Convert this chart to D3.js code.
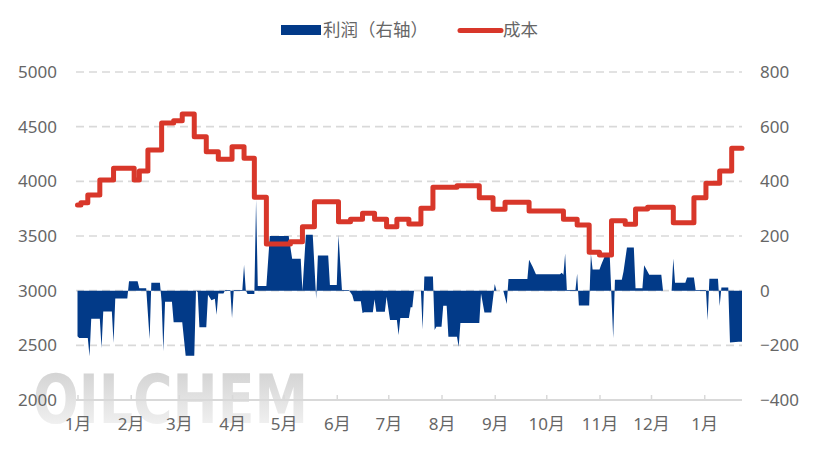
<!DOCTYPE html>
<html>
<head>
<meta charset="utf-8">
<script src="https://cdn.jsdelivr.net/npm/d3@7"></script>
<style>
  body { margin: 0; background: #fff; }
  svg text { font-family: "Noto Sans", "Noto Sans CJK SC", sans-serif; fill: #666; }
</style>
</head>
<body>
<svg id="chart" width="815" height="460"></svg>
<script>
// days counted from 2023-01-01
const startDate = new Date(2023, 0, 1);
const endDate = new Date(2024, 0, 23);

// cost (left axis), step values: [day, value]
const costSteps = [
  [0,3784],[2,3805],[6,3875],[13,4012],[21,4119],[33,4012],[36,4095],[41,4287],
  [49,4533],[56,4555],[61,4616],[68,4408],[75,4271],[82,4201],[90,4317],[97,4211],
  [103,3854],[110,3427],[124,3448],[131,3585],[138,3814],[152,3631],[159,3653],
  [166,3708],[173,3653],[180,3585],[186,3653],[193,3610],[200,3753],[207,3945],
  [221,3960],[234,3850],[242,3744],[249,3808],[263,3729],[283,3653],[291,3601],
  [298,3351],[304,3326],[311,3640],[319,3607],[325,3747],[332,3762],[347,3622],
  [359,3850],[366,3982],[374,4095],[381,4302],[387,4302]
];

// profit (right axis): [day, value]
const profitPoints = [
  [0,-167],[1,-173],[6,-173],[7,-240],[8,-103],[13,-103],[14,-210],[15,-76],
  [20,-76],[21,-191],[22,-29],[29,-29],[30,34],[35,34],[36,9],[40,9],[42,-177],
  [43,29],[48,29],[49,-41],[50,-222],[51,-41],[55,-41],[56,-116],[61,-116],
  [63,-238],[68,-238],[69,0],[70,-5],[71,-134],[75,-134],[76,-15],[78,-35],
  [80,-30],[81,-88],[82,-10],[85,-10],[86,2],[89,2],[90,-100],[91,2],[96,2],
  [97,94],[98,2],[99,-12],[103,-12],[104,333],[105,17],[110,17],[112,200],
  [123,200],[125,117],[130,117],[131,0],[133,205],[137,205],[139,-30],[140,129],
  [146,129],[147,21],[151,21],[152,204],[154,2],[158,2],[160,-16],[161,-39],
  [165,-39],[166,-82],[167,-79],[172,-79],[173,-31],[174,-77],[179,-77],
  [180,-22],[182,-107],[186,-107],[187,-162],[188,-100],[193,-100],[194,-61],
  [195,-61],[196,0],[200,0],[201,-141],[202,52],[207,52],[208,-144],[209,-132],
  [212,-132],[213,-55],[215,-55],[216,-169],[221,-169],[222,-205],[223,-118],
  [234,-118],[235,-10],[237,-80],[241,-80],[243,24],[244,0],[248,0],[250,-49],
  [251,43],[262,43],[263,113],[265,88],[267,60],[281,60],[282,66],[283,58],
  [284,136],[285,2],[290,2],[291,62],[292,-54],[298,-54],[299,134],[300,77],
  [304,77],[305,95],[307,125],[310,125],[312,-173],[313,40],[317,40],[318,70],
  [320,158],[324,158],[325,9],[329,9],[330,93],[333,58],[340,58],[341,0],
  [346,0],[347,118],[348,29],[354,29],[355,48],[359,48],[360,2],[366,2],
  [367,-108],[368,44],[373,44],[374,-56],[375,12],[379,12],[380,-190],
  [385,-187],[387,-187]
];

const leftTicks = [2000, 2500, 3000, 3500, 4000, 4500, 5000];
const rightTicks = [-400, -200, 0, 200, 400, 600, 800];
const monthLabels = ["1月","2月","3月","4月","5月","6月","7月","8月","9月","10月","11月","12月","1月"];

const blue = "#023a88";
const red = "#d8372a";
const grid = "#d9d9d9";

const svg = d3.select("#chart");
const dayToDate = (d) => d3.timeDay.offset(startDate, d);

const x = d3.scaleTime().domain([startDate, endDate]).range([77.5, 742]);
const yL = d3.scaleLinear().domain([2000, 5000]).range([400, 72]);
const yR = d3.scaleLinear().domain([-400, 800]).range([400, 72]);

// watermark
const defs = svg.append("defs");
const grad = defs.append("linearGradient").attr("id", "wm")
  .attr("x1", 0).attr("y1", 0).attr("x2", 0).attr("y2", 1);
grad.append("stop").attr("offset", "0%").attr("stop-color", "#cdcdcd");
grad.append("stop").attr("offset", "100%").attr("stop-color", "#f8f8f8");
svg.append("text")
  .attr("x", 33).attr("y", 423)
  .attr("textLength", 275).attr("lengthAdjust", "spacingAndGlyphs")
  .style("font-family", "DejaVu Sans").style("font-weight", "bold")
  .style("font-size", "68px").style("fill", "url(#wm)")
  .text("OILCHEM");

// gridlines
svg.append("g").selectAll("line")
  .data(leftTicks.filter(t => t > 2000))
  .join("line")
  .attr("x1", 76).attr("x2", 742)
  .attr("y1", d => yL(d)).attr("y2", d => yL(d))
  .attr("stroke", grid).attr("stroke-width", 1.6)
  .attr("stroke-dasharray", "8,5");

// left axis labels
const axL = svg.append("g").attr("transform", "translate(57,0)")
  .call(d3.axisLeft(yL).tickValues(leftTicks).tickSize(0).tickPadding(0).tickFormat(d3.format("d")));
axL.select(".domain").remove();
axL.selectAll("text").style("font-size", "17px").attr("fill", null);

// right axis labels
const axR = svg.append("g").attr("transform", "translate(760,0)")
  .call(d3.axisRight(yR).tickValues(rightTicks).tickSize(0).tickPadding(0).tickFormat(d3.format("d")));
axR.select(".domain").remove();
axR.selectAll("text").style("font-size", "17px").attr("fill", null);

// profit area
const area = d3.area()
  .x(d => x(dayToDate(d[0])))
  .y0(yR(0))
  .y1(d => yR(d[1]));
svg.append("path")
  .datum(profitPoints)
  .attr("d", area)
  .attr("fill", blue);

// x axis
const monthTicks = d3.timeMonth.range(startDate, endDate);
const axX = svg.append("g").attr("transform", "translate(0,400)")
  .call(d3.axisBottom(x).tickValues(monthTicks).tickSize(-5).tickPadding(24)
    .tickFormat((d, i) => monthLabels[i]));
axX.select(".domain").attr("stroke", grid).attr("stroke-width", 2)
  .attr("d", "M76,0H742");
axX.selectAll(".tick line").attr("stroke", grid).attr("stroke-width", 1.5);
axX.selectAll("text").style("font-size", "17px").attr("fill", null).attr("dy", "0.35em");

// cost line
const line = d3.line()
  .x(d => x(dayToDate(d[0])))
  .y(d => yL(d[1]))
  .curve(d3.curveStepAfter);
svg.append("path")
  .datum(costSteps)
  .attr("d", line)
  .attr("fill", "none")
  .attr("stroke", red)
  .attr("stroke-width", 5)
  .attr("stroke-linejoin", "round")
  .attr("stroke-linecap", "round");

// legend
const lg = svg.append("g");
lg.append("rect").attr("x", 281).attr("y", 25).attr("width", 40).attr("height", 10).attr("fill", blue);
lg.append("text").attr("x", 323).attr("y", 30).attr("dy", "0.35em")
  .attr("textLength", 105)
  .style("font-family", "'Noto Sans CJK SC'")
  .style("font-size", "17.5px").text("利润（右轴）");
lg.append("line").attr("x1", 460).attr("x2", 501).attr("y1", 30.5).attr("y2", 30.5)
  .attr("stroke", red).attr("stroke-width", 5).attr("stroke-linecap", "round");
lg.append("text").attr("x", 503).attr("y", 30).attr("dy", "0.35em")
  .style("font-family", "'Noto Sans CJK SC'")
  .style("font-size", "17.5px").text("成本");
</script>
</body>
</html>
